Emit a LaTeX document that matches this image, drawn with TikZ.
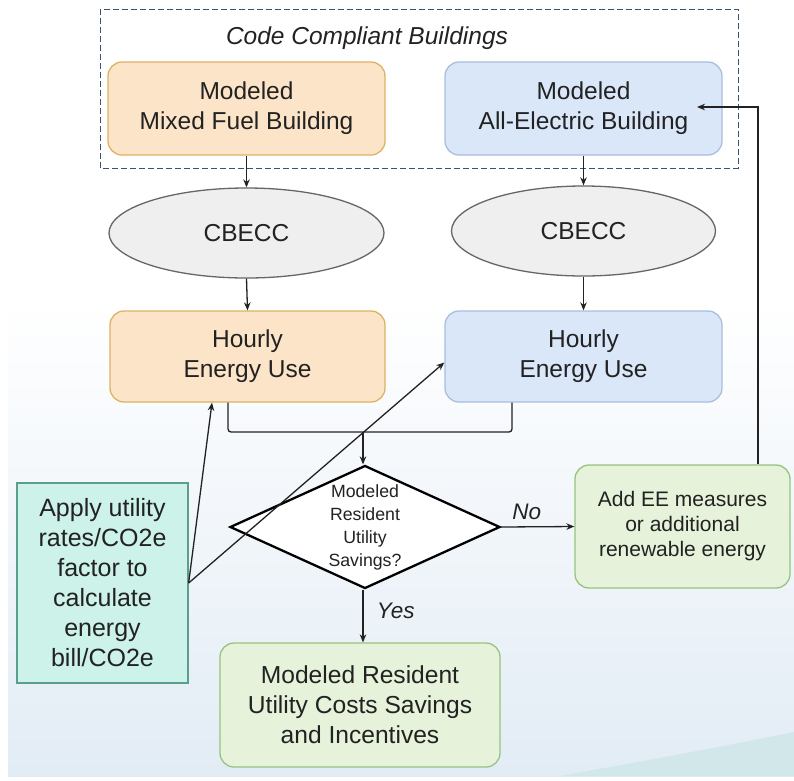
\documentclass[tikz,border=0pt]{standalone}
\usepackage{fontspec}
\setmainfont{Liberation Sans}
\usetikzlibrary{shapes.geometric,arrows.meta,calc}
\definecolor{orfill}{HTML}{FCE4C8}
\definecolor{ordraw}{HTML}{DDB265}
\definecolor{blfill}{HTML}{DAE7F8}
\definecolor{bldraw}{HTML}{A8BFDD}
\definecolor{elfill}{HTML}{EFEFEF}
\definecolor{eldraw}{HTML}{666666}
\definecolor{grfill}{HTML}{E6F2DA}
\definecolor{grdraw}{HTML}{95C47F}
\definecolor{tlfill}{HTML}{CCF2EA}
\definecolor{tldraw}{HTML}{5A9E8F}
\definecolor{txt}{HTML}{222222}
\definecolor{dashc}{HTML}{3A5470}
\definecolor{bgblue}{HTML}{E2ECF5}
\definecolor{swoosh}{HTML}{D2E7EA}
\begin{document}
\begin{tikzpicture}[x=1pt,y=-1pt,
  box/.style={draw, line width=1.3pt, rounded corners=14pt, align=center, text=txt, inner sep=0pt,
    font=\fontsize{24.5}{30}\selectfont},
  orbox/.style={box, fill=orfill, draw=ordraw},
  blbox/.style={box, fill=blfill, draw=bldraw},
  grbox/.style={box, fill=grfill, draw=grdraw},
  ell/.style={ellipse, draw=eldraw, fill=elfill, line width=1.3pt, inner sep=0pt, text=txt,
    font=\fontsize{24.5}{30}\selectfont},
  conn/.style={draw=txt, line width=1.3pt},
  arr/.style={conn, -{Stealth[length=8pt,width=6.5pt]}},
  lbl/.style={font=\fontsize{22.5}{26}\selectfont\itshape, text=txt}
]
\useasboundingbox (0,0) rectangle (794,780);
% background
\fill[white] (0,0) rectangle (794,780);
\shade[top color=white, bottom color=bgblue] (8,300) rectangle (794,776);
\fill[swoosh] (560,776) .. controls (650,760) and (730,745) .. (794,732) -- (794,776) -- cycle;

% dashed group
\draw[dashc, line width=1pt, dash pattern=on 6pt off 3pt] (100,9) rectangle (738,168);
\node[lbl, font=\fontsize{24.5}{28}\selectfont\itshape] (title) at (367,38) {Code Compliant Buildings};

% nodes
\node[orbox, minimum width=277, minimum height=93] (mf) at (246.5,108.5) {Modeled\\Mixed Fuel Building};
\node[blbox, minimum width=277, minimum height=93] (ae) at (583.5,108.5) {Modeled\\All-Electric Building};
\node[ell, minimum width=275, minimum height=90] (cb1) at (246.5,233) {CBECC};
\node[ell, minimum width=264, minimum height=90] (cb2) at (583.5,231) {CBECC};
\node[orbox, minimum width=275, minimum height=91] (hl) at (247.5,356.5) {Hourly\\Energy Use};
\node[blbox, minimum width=277, minimum height=91] (hr) at (583.5,356.5) {Hourly\\Energy Use};
\node[diamond, draw=black, fill=white, line width=2.3pt, minimum width=270, minimum height=123, inner sep=0pt] (d) at (365,527) {};
\node[align=center, text=txt, font=\fontsize{17.7}{23}\selectfont] (dt) at (365,527) {Modeled\\Resident\\Utility\\Savings?};
\node[grbox, font=\fontsize{21}{25}\selectfont, minimum width=215, minimum height=123] (ee) at (682.5,526.5) {Add EE measures\\or additional\\renewable energy};
\node[grbox, font=\fontsize{24.6}{30}\selectfont, minimum width=280, minimum height=124] (bot) at (360,705) {Modeled Resident\\Utility Costs Savings\\and Incentives};
\node[draw=tldraw, fill=tlfill, line width=1.3pt, align=center, text=txt, inner sep=0pt,
  font=\fontsize{25}{30}\selectfont, minimum width=171, minimum height=200] (ap) at (102.5,583)
  {Apply utility\\rates/CO2e\\factor to\\calculate\\energy\\bill/CO2e};

% connectors
\draw[arr] (mf.south) -- (cb1.north);
\draw[arr] (ae.south) -- (cb2.north);
\draw[arr] (cb1.south) -- (hl.north);
\draw[arr] (cb2.south) -- (hr.north);
\coordinate (j) at (363,432);
\draw[conn, rounded corners=3pt] ([xshift=-19.5pt]hl.south) |- (j) -| ([xshift=-71.5pt]hr.south);
\draw[arr] (j) -- (d.north -| j);
\draw[arr] (d.east) -- node[lbl, above=3pt, pos=0.35] (no) {No} (ee.west);
\draw[arr] (d.south -| j) -- node[lbl, right=10pt, pos=0.4] (yes) {Yes} (bot.north -| j);
\coordinate (fb) at (697,107);
\draw[arr] ([xshift=75.5pt]ee.north) |- (fb);
\draw[arr] (ap.east) -- ([xshift=-35.5pt]hl.south);
\draw[arr] (ap.east) -- ([yshift=-6pt]hr.west);
\end{tikzpicture}
\end{document}
